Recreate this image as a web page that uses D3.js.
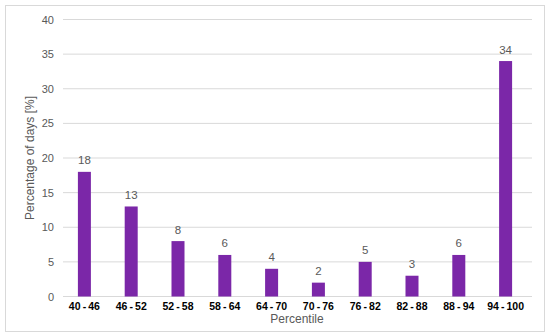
<!doctype html>
<html>

<head>
    <title>Percentile chart</title>
    <script src="https://cdnjs.cloudflare.com/ajax/libs/d3/7.8.5/d3.min.js"></script>
    <style>
        body { margin: 0; background: #fff; }
        svg { display: block; font-family: "Liberation Sans", Arial, sans-serif; }
    </style>
</head>

<body>
    <svg width="550" height="336"></svg>
    <script>
        var categories = ["40\u2009-\u200946", "46\u2009-\u200952", "52\u2009-\u200958", "58\u2009-\u200964", "64\u2009-\u200970",
            "70\u2009-\u200976", "76\u2009-\u200982", "82\u2009-\u200988", "88\u2009-\u200994", "94\u2009-\u2009100"];
        var values = [18, 13, 8, 6, 4, 2, 5, 3, 6, 34];
        var yTicks = [0, 5, 10, 15, 20, 25, 30, 35, 40];

        var svg = d3.select("svg");

        // chart border
        svg.append("rect")
            .attr("x", 5.5).attr("y", 5.5)
            .attr("width", 539).attr("height", 326)
            .attr("fill", "#fff")
            .attr("stroke", "#d9d9d9");

        var xScale = d3.scaleBand().domain(categories).range([61, 529]),
            yScale = d3.scaleLinear().domain([0, 40]).range([296.5, 19.5]);

        // gridlines
        svg.append("g")
            .selectAll("line")
            .data(yTicks)
            .enter().append("line")
            .attr("x1", 63).attr("x2", 532)
            .attr("y1", function (d) { return yScale(d); })
            .attr("y2", function (d) { return yScale(d); })
            .attr("stroke", "#d9d9d9")
            .attr("stroke-width", 1);

        // y tick labels
        svg.append("g")
            .selectAll("text")
            .data(yTicks)
            .enter().append("text")
            .attr("x", 54)
            .attr("y", function (d) { return yScale(d) + 4; })
            .attr("text-anchor", "end")
            .attr("font-size", 11)
            .attr("fill", "#595959")
            .text(function (d) { return d; });

        var barW = 13;

        svg.append("g")
            .selectAll("rect")
            .data(values)
            .enter().append("rect")
            .attr("x", function (d, i) { return xScale(categories[i]) + xScale.bandwidth() / 2 - barW / 2; })
            .attr("y", function (d) { return yScale(d); })
            .attr("width", barW)
            .attr("height", function (d) { return yScale(0) - yScale(d); })
            .attr("fill", "#7b27a8");

        // value labels
        svg.append("g")
            .selectAll("text")
            .data(values)
            .enter().append("text")
            .attr("x", function (d, i) { return xScale(categories[i]) + xScale.bandwidth() / 2; })
            .attr("y", function (d) { return yScale(d) - 7.5; })
            .attr("text-anchor", "middle")
            .attr("font-size", 11.5)
            .attr("fill", "#595959")
            .text(function (d) { return d; });

        // x category labels
        svg.append("g")
            .selectAll("text")
            .data(categories)
            .enter().append("text")
            .attr("x", function (d) { return xScale(d) + xScale.bandwidth() / 2; })
            .attr("y", 309.5)
            .attr("text-anchor", "middle")
            .attr("font-size", 10.5)
            .attr("font-weight", "bold")
            .attr("fill", "#000")
            .text(function (d) { return d; });

        // axis titles
        svg.append("text")
            .attr("x", 297).attr("y", 323)
            .attr("text-anchor", "middle")
            .attr("font-size", 12)
            .attr("fill", "#595959")
            .text("Percentile");

        svg.append("text")
            .attr("transform", "translate(34,158) rotate(-90)")
            .attr("text-anchor", "middle")
            .attr("font-size", 12)
            .attr("fill", "#595959")
            .text("Percentage of days [%]");
    </script>
</body>

</html>
